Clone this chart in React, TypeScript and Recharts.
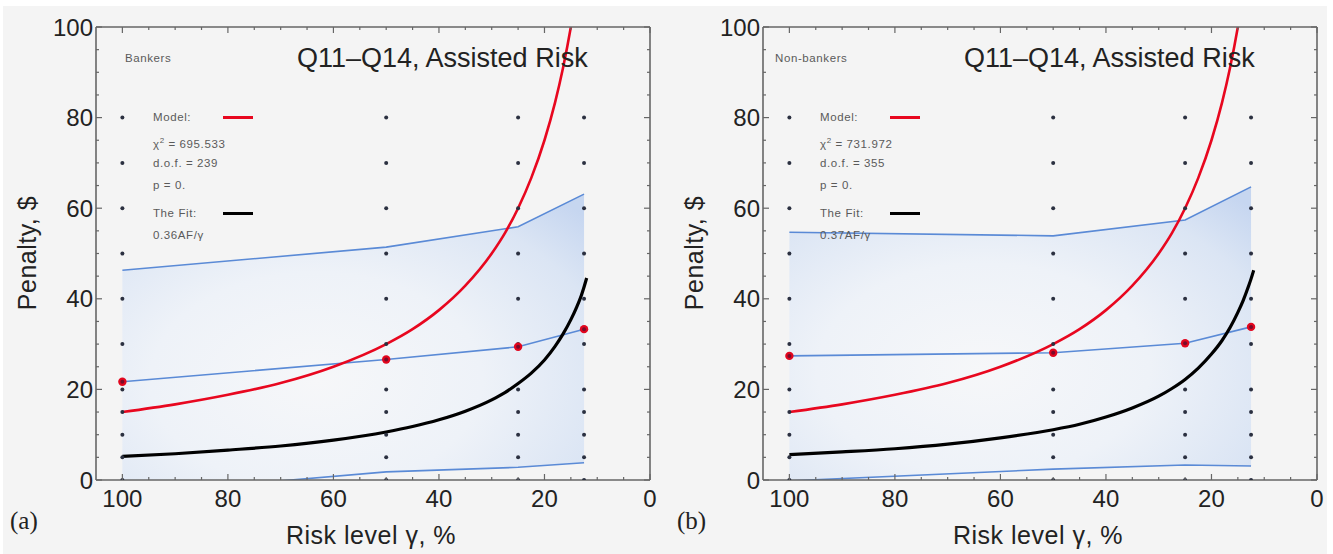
import { Area, ComposedChart, Line, Scatter, XAxis, YAxis } from "recharts";

// risk level grid (x) and penalty grid (y)
const xTicks = [0, 5, 10, 15, 20, 25, 30, 35, 40, 45, 50, 55, 60, 65, 70, 75, 80, 85, 90, 95, 100];
const yTicks = [0, 5, 10, 15, 20, 25, 30, 35, 40, 45, 50, 55, 60, 65, 70, 75, 80, 85, 90, 95, 100];

const riskLevels = [100, 50, 25, 12.5];
const answerLevels = [0, 5, 10, 15, 20, 30, 40, 50, 60, 70, 80];

// bankers
const upperA = [46.3, 51.4, 55.9, 63.1];
const meanA = [21.7, 26.6, 29.4, 33.3];
const lowerA = [-3.2, 1.8, 2.8, 3.8];

// non-bankers
const upperB = [54.7, 53.9, 57.4, 64.7];
const meanB = [27.4, 28.1, 30.2, 33.8];
const lowerB = [-0.2, 2.4, 3.3, 3.1];

// curves
const curveX = [100, 90, 80, 70, 60, 50, 45, 40, 35, 30, 27.5, 25, 22.5, 20, 18, 16.5, 15, 14, 13, 12.5, 12];
const modelCurve = [15, 16.7, 18.8, 21.4, 25, 30, 33.3, 37.5, 42.9, 50, 54.5, 60, 66.7, 75, 83.3, 90.9, 100, 107.1];
const fitA = [5.2, 5.8, 6.6, 7.5, 8.8, 10.6, 11.8, 13.3, 15.2, 17.7, 19.3, 21.3, 23.6, 26.5, 29.5, 32.2, 35.4, 37.9, 40.8, 42.6, 44.6];
const fitB = [5.6, 6.2, 6.9, 7.9, 9.3, 11.1, 12.3, 13.9, 15.9, 18.5, 20.2, 22.2, 24.7, 27.8, 30.8, 33.6, 37.0, 39.6, 42.7, 44.4, 46.3];

const SANS = "'Liberation Sans', Arial, sans-serif";
const SERIF = "'Liberation Serif', 'Times New Roman', serif";
const FRAME = "#666";
const INK = "#222";
const BLUE = "#5a8ad6";

const zip = (xs: number[], ys: number[]) => ys.map((y, i) => ({ x: xs[i], y }));

const BottomTick = (p: any) => {
  const v = p.payload.value;
  const major = v % 20 === 0;
  return (
    <g>
      <line x1={p.x} y1={p.y} x2={p.x} y2={p.y - (major ? 6 : 3)} stroke={FRAME} strokeWidth={1.2} />
      {major && (
        <text x={p.x} y={p.y + 27} textAnchor="middle" fontSize={24} fill={INK} fontFamily={SANS}>
          {v}
        </text>
      )}
    </g>
  );
};

const TopTick = (p: any) => {
  const major = p.payload.value % 20 === 0;
  return <line x1={p.x} y1={p.y} x2={p.x} y2={p.y + (major ? 6 : 3)} stroke={FRAME} strokeWidth={1.2} />;
};

const LeftTick = (p: any) => {
  const v = p.payload.value;
  const major = v % 20 === 0;
  return (
    <g>
      <line x1={p.x} y1={p.y} x2={p.x + (major ? 6 : 3)} y2={p.y} stroke={FRAME} strokeWidth={1.2} />
      {major && (
        <text x={p.x - 3} y={p.y + 8.5} textAnchor="end" fontSize={24} fill={INK} fontFamily={SANS}>
          {v}
        </text>
      )}
    </g>
  );
};

const RightTick = (p: any) => {
  const major = p.payload.value % 20 === 0;
  return <line x1={p.x} y1={p.y} x2={p.x - (major ? 6 : 3)} y2={p.y} stroke={FRAME} strokeWidth={1.2} />;
};

const RedDot = (p: any) => (
  <g>
    <circle cx={p.cx} cy={p.cy} r={4.2} fill="#e2061e" />
    <circle cx={p.cx} cy={p.cy} r={2} fill="#7a0a2a" />
  </g>
);

const GridDot = (p: any) => <circle cx={p.cx} cy={p.cy} r={2} fill="#2b3040" />;

type PanelProps = {
  id: string;
  left: number;
  group: string;
  letter: string;
  upper: number[];
  mean: number[];
  lower: number[];
  fit: number[];
  chi: string;
  dof: string;
  fitText: string;
  groupOffset: number;
};

const Panel = ({ id, left, group, letter, upper, mean, lower, fit, chi, dof, fitText, groupOffset }: PanelProps) => {
  const band = riskLevels.map((x, i) => ({ x, range: [lower[i], upper[i]] }));
  const grid = riskLevels.flatMap((x) => answerLevels.map((y) => ({ x, y })));
  const small = {
    position: "absolute" as const,
    fontFamily: SANS,
    fontSize: 11.5,
    letterSpacing: 0.6,
    color: "#5a5a5a",
    lineHeight: "14px",
    whiteSpace: "nowrap" as const,
  };
  const legendLine = (top: number, color: string) => (
    <div style={{ position: "absolute", left: 223, top: top - 1.5, width: 30, height: 3, background: color }} />
  );
  return (
    <div style={{ position: "absolute", left, top: 0, width: 660, height: 554 }}>
      <ComposedChart width={660} height={554} margin={{ top: 26, right: 9, bottom: 14, left: 36 }}>
        <defs>
          <radialGradient id={id} cx="0.42" cy="0.62" r="0.8">
            <stop offset="0%" stopColor="#f6f7f9" />
            <stop offset="45%" stopColor="#eef2f8" />
            <stop offset="80%" stopColor="#dbe5f4" />
            <stop offset="100%" stopColor="#c6d6f0" />
          </radialGradient>
        </defs>
        <XAxis
          dataKey="x"
          type="number"
          domain={[0, 105]}
          reversed
          allowDataOverflow
          ticks={xTicks}
          interval={0}
          height={60}
          tickSize={0}
          tickMargin={0}
          tickLine={false}
          axisLine={{ stroke: FRAME, strokeWidth: 1.6 }}
          tick={(p: any) => <BottomTick {...p} />}
        />
        <XAxis
          xAxisId="top"
          orientation="top"
          dataKey="x"
          type="number"
          domain={[0, 105]}
          reversed
          allowDataOverflow
          ticks={xTicks}
          interval={0}
          height={1}
          tickSize={0}
          tickMargin={0}
          tickLine={false}
          axisLine={{ stroke: FRAME, strokeWidth: 1.6 }}
          tick={(p: any) => <TopTick {...p} />}
        />
        <YAxis
          type="number"
          domain={[0, 100]}
          allowDataOverflow
          ticks={yTicks}
          interval={0}
          width={60}
          tickSize={0}
          tickMargin={0}
          tickLine={false}
          axisLine={{ stroke: FRAME, strokeWidth: 1.6 }}
          tick={(p: any) => <LeftTick {...p} />}
        />
        <YAxis
          yAxisId="right"
          orientation="right"
          type="number"
          domain={[0, 100]}
          allowDataOverflow
          ticks={yTicks}
          interval={0}
          width={1}
          tickSize={0}
          tickMargin={0}
          tickLine={false}
          axisLine={{ stroke: FRAME, strokeWidth: 1.6 }}
          tick={(p: any) => <RightTick {...p} />}
        />
        <Area data={band} dataKey="range" type="linear" stroke="none" fill={`url(#${id})`} fillOpacity={1} isAnimationActive={false} />
        <Scatter data={grid} dataKey="y" shape={(p: any) => <GridDot {...p} />} isAnimationActive={false} />
        <Line data={zip(riskLevels, upper)} dataKey="y" type="linear" stroke={BLUE} strokeWidth={1.6} dot={false} isAnimationActive={false} />
        <Line data={zip(riskLevels, lower)} dataKey="y" type="linear" stroke={BLUE} strokeWidth={1.6} dot={false} isAnimationActive={false} />
        <Line data={zip(riskLevels, mean)} dataKey="y" type="linear" stroke={BLUE} strokeWidth={1.6} dot={false} isAnimationActive={false} />
        <Line data={zip(curveX, modelCurve)} dataKey="y" type="monotone" stroke="#e8071f" strokeWidth={2.6} dot={false} isAnimationActive={false} />
        <Line data={zip(curveX, fit)} dataKey="y" type="monotone" stroke="#000" strokeWidth={3.2} dot={false} isAnimationActive={false} />
        <Line data={zip(riskLevels, mean)} dataKey="y" type="linear" stroke="none" dot={(p: any) => <RedDot key={p.index} {...p} />} isAnimationActive={false} />
      </ComposedChart>

      <div style={{ ...small, left: groupOffset, top: 51 }}>{group}</div>
      <div style={{ position: "absolute", left: 297, top: 45, fontFamily: SANS, fontSize: 27, lineHeight: "27px", color: INK, whiteSpace: "nowrap" }}>
        Q11–Q14, Assisted Risk
      </div>

      <div style={{ ...small, left: 153, top: 110 }}>Model:</div>
      {legendLine(117, "#e8071f")}
      <div style={{ ...small, left: 153, top: 134 }}>
        χ<sup style={{ fontSize: 8 }}>2</sup> = {chi}
      </div>
      <div style={{ ...small, left: 153, top: 156 }}>d.o.f. = {dof}</div>
      <div style={{ ...small, left: 153, top: 178 }}>p = 0.</div>
      <div style={{ ...small, left: 153, top: 206 }}>The Fit:</div>
      {legendLine(213, "#000")}
      <div style={{ ...small, left: 153, top: 228 }}>{fitText}</div>

      <div
        style={{
          position: "absolute",
          left: 27,
          top: 253,
          transform: "translate(-50%, -50%) rotate(-90deg)",
          fontFamily: SANS,
          fontSize: 25,
          letterSpacing: 0.5,
          color: INK,
          whiteSpace: "nowrap",
        }}
      >
        Penalty, $
      </div>
      <div
        style={{
          position: "absolute",
          left: 371,
          top: 523,
          transform: "translateX(-50%)",
          fontFamily: SANS,
          fontSize: 25,
          lineHeight: "25px",
          letterSpacing: 0.5,
          color: INK,
          whiteSpace: "nowrap",
        }}
      >
        Risk level γ, %
      </div>
      <div style={{ position: "absolute", left: 10, top: 508, fontFamily: SERIF, fontSize: 25, lineHeight: "25px", color: INK }}>
        {letter}
      </div>
    </div>
  );
};

const App = () => {
  return (
    <div style={{ position: "absolute", left: 0, top: 0, width: 1333, height: 554, background: "#fff", overflow: "hidden" }}>
      <div style={{ position: "absolute", left: 3, top: 6, width: 1324, height: 548, background: "#f4f4f4" }} />
      <Panel
        id="bandA"
        left={0}
        group="Bankers"
        letter="(a)"
        upper={upperA}
        mean={meanA}
        lower={lowerA}
        fit={fitA}
        chi="695.533"
        dof="239"
        fitText="0.36AF/γ"
        groupOffset={125}
      />
      <Panel
        id="bandB"
        left={667}
        group="Non-bankers"
        letter="(b)"
        upper={upperB}
        mean={meanB}
        lower={lowerB}
        fit={fitB}
        chi="731.972"
        dof="355"
        fitText="0.37AF/γ"
        groupOffset={108}
      />
    </div>
  );
};

export default App;
